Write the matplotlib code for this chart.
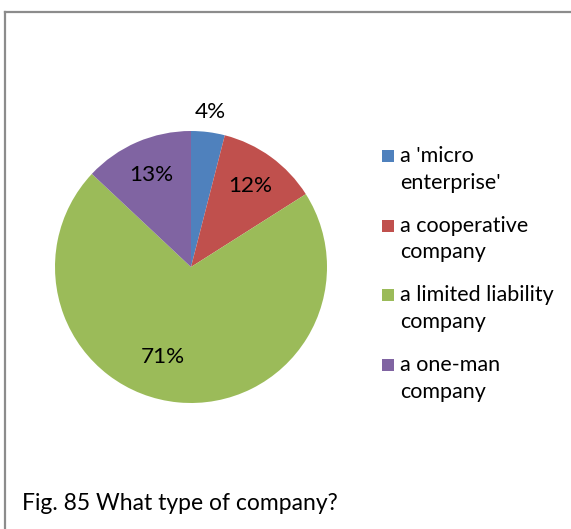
import numpy as np
import matplotlib
matplotlib.use('Agg')
import matplotlib.pyplot as plt
from matplotlib.lines import Line2D
from matplotlib.patches import Rectangle

plt.rcParams['font.family'] = ['Lato', 'DejaVu Sans']

labels = ["a 'micro\nenterprise'", "a cooperative\ncompany", "a limited liability\ncompany", "a one-man\ncompany"]
shares = [4, 12, 71, 13]
pct_text = ['4%', '12%', '71%', '13%']
colors = ['#4F81BD', '#C0504D', '#9BBB59', '#8064A2']
caption = 'Fig. 85 What type of company?'

W, H = 571, 529
fig = plt.figure(figsize=(W / 100, H / 100), dpi=100)
ax = fig.add_axes([0, 0, 1, 1])

cx, cy, R = 191, H - 267, 136
wedges, _ = ax.pie(shares, colors=colors, startangle=90, counterclock=False,
                   center=(cx, cy), radius=R, frame=True,
                   wedgeprops=dict(linewidth=0))
ax.set_xlim(0, W)
ax.set_ylim(0, H)
ax.axis('off')

# data labels: small slice outside, others inside (excel style best fit)
dist = [1.15, 0.74, 0.69, 0.74]
ang_shift = [0, 0, -12, 0]
for w, t, d, s in zip(wedges, pct_text, dist, ang_shift):
    ang = np.deg2rad((w.theta1 + w.theta2) / 2 + s)
    ax.text(cx + d * R * np.cos(ang), cy + d * R * np.sin(ang), t,
            ha='center', va='center', fontsize=16.2, color='black')

# legend, square aligned with first line of each entry
for i, (lab, c) in enumerate(zip(labels, colors)):
    yc = 156 + i * 69.7
    fig.add_artist(Rectangle((382 / W, 1 - (yc + 6) / H), 12 / W, 12 / H,
                             transform=fig.transFigure, facecolor=c, edgecolor='none'))
    fig.text(400 / W, 1 - (yc - 10) / H, lab, fontsize=15.5, ha='left', va='top',
             linespacing=1.42)

fig.text(22 / W, 1 - 504 / H, caption, fontsize=16.5, ha='left', va='center')

# chart area border (top and left visible)
fig.add_artist(Line2D([5 / W, 1], [1 - 11.5 / H, 1 - 11.5 / H], transform=fig.transFigure,
                      color='#8c8c8c', linewidth=1.6))
fig.add_artist(Line2D([5 / W, 5 / W], [0, 1 - 11.5 / H], transform=fig.transFigure,
                      color='#8c8c8c', linewidth=1.6))

fig.savefig('out.png', dpi=100)
